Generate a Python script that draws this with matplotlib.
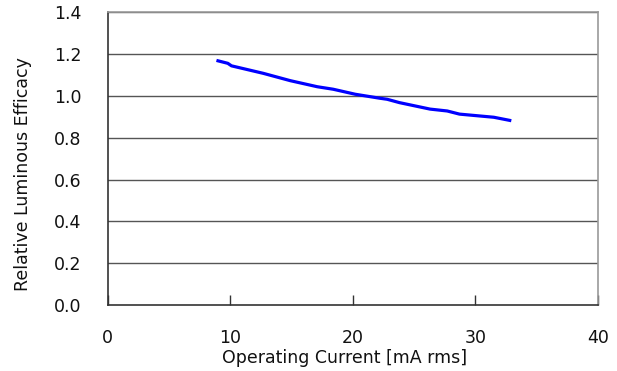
import matplotlib
matplotlib.use("Agg")
import matplotlib.pyplot as plt

current = [9.0, 9.8, 10.1, 12.7, 14.9, 17.1, 18.4, 20.2, 22.2, 22.8, 23.8, 26.3, 27.7, 28.7, 31.5, 32.8]
efficacy = [1.168, 1.156, 1.144, 1.108, 1.073, 1.044, 1.032, 1.008, 0.989, 0.984, 0.968, 0.937, 0.928, 0.913, 0.898, 0.883]
xticks = [0, 10, 20, 30, 40]
yticks = [0.0, 0.2, 0.4, 0.6, 0.8, 1.0, 1.2, 1.4]

plt.rcParams['font.family'] = ['DejaVu Sans']
fig = plt.figure(figsize=(6.17, 3.71), dpi=100)
ax = fig.add_axes([0.1745, 0.178, 0.7947, 0.7888])

for y in yticks[1:]:
    ax.axhline(y, color='#555555', lw=1.0, zorder=1)

ax.plot(current, efficacy, color='#0000ff', lw=2.3, zorder=3)

ax.set_xlim(0, 40)
ax.set_ylim(0, 1.4)
ax.set_xticks(xticks)
ax.set_yticks(yticks)
ax.set_xticklabels([str(v) for v in xticks])
ax.set_yticklabels([f"{v:.1f}" for v in yticks])
ax.tick_params(axis='x', direction='in', length=7, width=1, color='#333333', pad=17, labelsize=12.5, labelcolor='#111111')
ax.tick_params(axis='y', length=0, pad=19, labelsize=12.5, labelcolor='#111111')

for s in ['left', 'bottom']:
    ax.spines[s].set_color('#333333')
    ax.spines[s].set_linewidth(1.2)
for s in ['top', 'right']:
    ax.spines[s].set_color('#999999')
    ax.spines[s].set_linewidth(1.2)

ax.set_xlabel('Operating Current [mA rms]', fontsize=12.5, color='#111111')
ax.set_ylabel('Relative Luminous Efficacy', fontsize=12.5, color='#111111')
ax.xaxis.set_label_coords(0.483, -0.15)
ax.yaxis.set_label_coords(-0.155, 0.447)

fig.savefig('out.png', dpi=100)
